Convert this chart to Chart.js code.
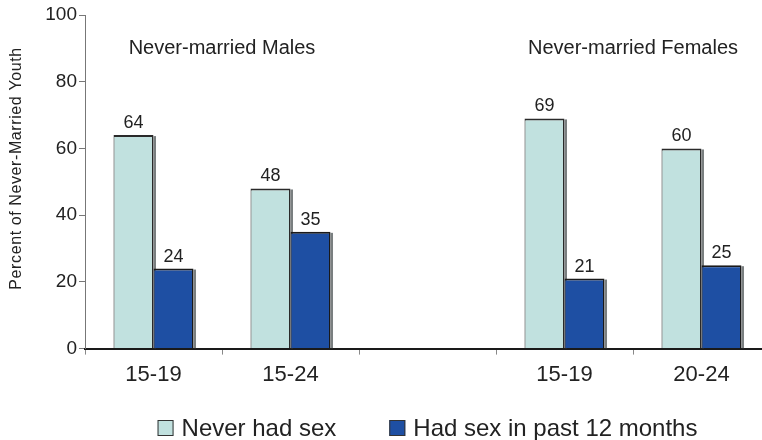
<!DOCTYPE html>
<html>
<head>
<meta charset="utf-8">
<script src="https://cdn.jsdelivr.net/npm/chart.js@4/dist/chart.umd.min.js"></script>
<style>
  html, body { margin: 0; padding: 0; background: #fff; overflow: hidden; }
  #wrap { width: 775px; height: 440px; }
</style>
</head>
<body>
<div id="wrap"><canvas id="chart"></canvas></div>
<script>
// dados
const categorias = ["15-19", "15-24", "", "15-19", "20-24"];
const nuncaTeveSexo = [64, 48, null, 69, 60];
const sexoUltimos12 = [24, 35, null, 21, 25];
const grupos = ["Never-married Males", "Never-married Females"];
const ticksY = [0, 20, 40, 60, 80, 100];
const tituloY = "Percent of Never-Married Youth";

const fonte = "'Liberation Sans', Arial, sans-serif";

// sombra escura no lado direito das barras
const sombraBarras = {
  id: "sombraBarras",
  beforeDatasetsDraw(chart) {
    const ctx = chart.ctx;
    ctx.save();
    chart.data.datasets.forEach((ds, i) => {
      chart.getDatasetMeta(i).data.forEach((bar, j) => {
        if (ds.data[j] == null) return;
        const right = bar.x + bar.width / 2;
        ctx.fillStyle = "#7a7f80";
        ctx.fillRect(right, bar.y + 1, 2.5, bar.base - bar.y - 1);
      });
    });
    ctx.restore();
  }
};

// valores, títulos dos grupos, título do eixo e legenda
const rotulos = {
  id: "rotulos",
  afterDatasetsDraw(chart) {
    const ctx = chart.ctx;
    const x = chart.scales.x, y = chart.scales.y;
    ctx.save();
    ctx.fillStyle = "#222";
    ctx.textAlign = "center";
    ctx.textBaseline = "bottom";
    ctx.font = "18px " + fonte;
    chart.data.datasets.forEach((ds, i) => {
      chart.getDatasetMeta(i).data.forEach((bar, j) => {
        if (ds.data[j] == null) return;
        ctx.fillText(ds.data[j], bar.x, bar.y - 3);
      });
    });

    ctx.font = "20px " + fonte;
    ctx.textBaseline = "middle";
    ctx.fillText(grupos[0], x.getPixelForValue(0.5), y.getPixelForValue(90));
    ctx.fillText(grupos[1], x.getPixelForValue(3.5), y.getPixelForValue(90));

    // título do eixo y
    ctx.save();
    ctx.translate(17, y.getPixelForValue(54));
    ctx.rotate(-Math.PI / 2);
    ctx.font = "16px " + fonte;
    ctx.letterSpacing = "0.6px";
    ctx.fillText(tituloY, 0, 0);
    ctx.restore();

    // legenda
    ctx.font = "24px " + fonte;
    ctx.textAlign = "left";
    const caixa = 16, gap = 8, entre = 53;
    const larguras = chart.data.datasets.map(ds => ctx.measureText(ds.label).width);
    const total = larguras.reduce((s, w) => s + caixa + gap + w, 0) + entre;
    let lx = (chart.chartArea.left + chart.chartArea.right) / 2 - total / 2;
    const ly = 428;
    chart.data.datasets.forEach((ds, i) => {
      ctx.fillStyle = ds.backgroundColor;
      ctx.fillRect(lx, ly - caixa / 2, caixa, caixa);
      ctx.strokeStyle = "#333";
      ctx.lineWidth = 1;
      ctx.strokeRect(lx + 0.5, ly - caixa / 2 + 0.5, caixa - 1, caixa - 1);
      ctx.fillStyle = "#222";
      ctx.fillText(ds.label, lx + caixa + gap, ly + 1);
      lx += caixa + gap + larguras[i] + entre;
    });
    ctx.restore();
  }
};

new Chart(document.getElementById("chart").getContext("2d"), {
  type: "bar",
  data: {
    labels: categorias,
    datasets: [
      {
        label: "Never had sex",
        data: nuncaTeveSexo,
        backgroundColor: "#c1e1df",
        borderColor: "#2a2a2a",
        borderWidth: { top: 2, right: 1.5, left: 1, bottom: 0 },
        borderSkipped: false,
      },
      {
        label: "Had sex in past 12 months",
        data: sexoUltimos12,
        backgroundColor: "#1e4fa3",
        borderColor: "#1a1a1a",
        borderWidth: { top: 2, right: 1.5, left: 1, bottom: 0 },
        borderSkipped: false,
      },
    ],
  },
  options: {
    responsive: true,
    maintainAspectRatio: false,
    animation: false,
    layout: { padding: { top: 15, right: 5, left: 0, bottom: 45 } },
    datasets: {
      bar: { categoryPercentage: 0.584, barPercentage: 1 },
    },
    scales: {
      x: {
        grid: { display: true, drawOnChartArea: false, offset: true, color: "#888", tickLength: 6 },
        border: { color: "#1a1a1a", width: 2 },
        ticks: { color: "#222", font: { family: fonte, size: 22 }, padding: 7 },
      },
      y: {
        min: 0,
        max: 100,
        afterBuildTicks(scale) {
          scale.ticks = ticksY.map(v => ({ value: v }));
        },
        afterFit(scale) {
          scale.width = 85;
        },
        grid: { drawOnChartArea: false, color: "#777", tickLength: 6 },
        border: { color: "#777", width: 1 },
        ticks: { color: "#222", font: { family: fonte, size: 19 }, padding: 2 },
      },
    },
    plugins: {
      legend: { display: false },
      tooltip: { enabled: false },
    },
  },
  plugins: [sombraBarras, rotulos],
});
</script>
</body>
</html>
